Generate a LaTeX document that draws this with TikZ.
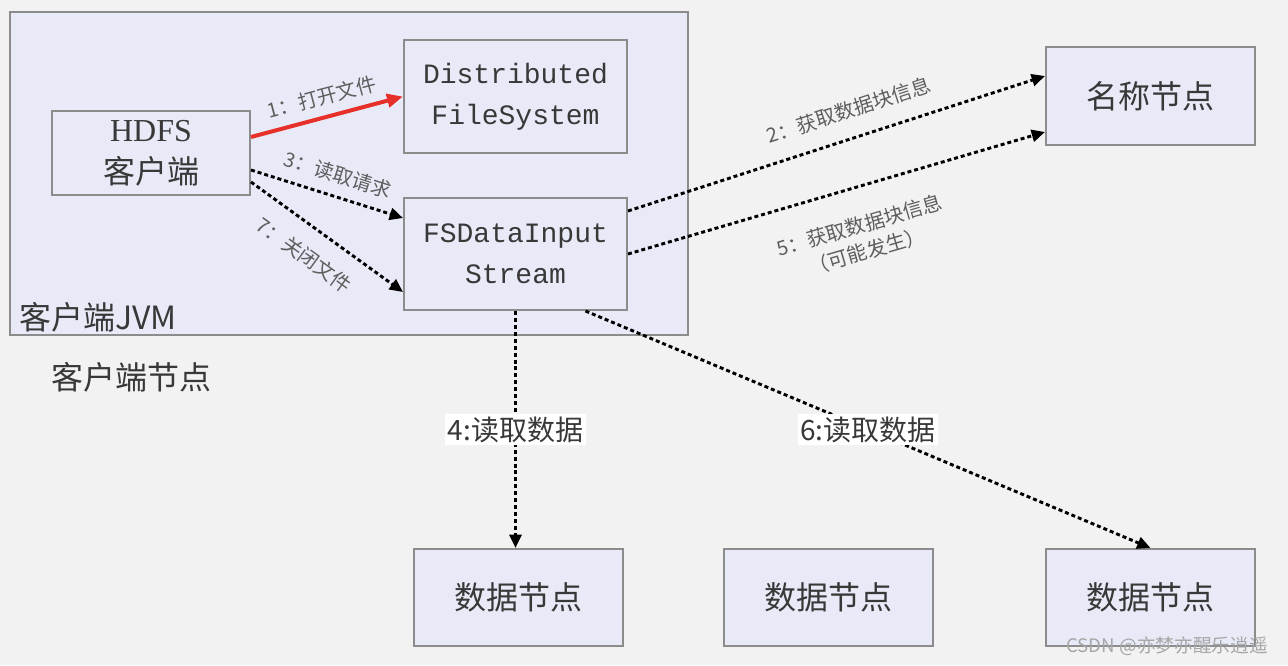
\documentclass[tikz,border=0pt]{standalone}
\usepackage{fontspec}
\setmainfont{Liberation Serif}
\newfontfamily\cjk{Noto Sans CJK SC}
\newfontfamily\mono{Liberation Mono}
\usetikzlibrary{
    arrows.meta,
    calc
}
\definecolor{pagebg}{HTML}{F2F2F2}
\definecolor{boxfill}{HTML}{E8EBF7}
\definecolor{boxline}{HTML}{8C8C8C}
\definecolor{boxtext}{HTML}{383838}
\definecolor{steptext}{HTML}{5E5E5E}
\definecolor{openred}{HTML}{E8302A}
\newcommand{\boxcjk}{\cjk\fontsize{24}{31.5}\selectfont}
\newcommand{\boxmono}{\mono\fontsize{21}{30.75}\selectfont}
\newcommand{\stepfont}{\cjk\fontsize{15}{20}\selectfont}
\tikzset{box/.style={draw=boxline, line width=1.5pt, fill=boxfill, inner sep=0pt, text=boxtext, align=center}}
\tikzset{dotline/.style={line width=2.2pt, dash pattern=on 3pt off 2.2pt, -{Triangle[length=10pt, width=9pt]}}}
\tikzset{steplabel/.style={text=steptext, inner sep=0pt, font=\stepfont}}
\tikzset{readlabel/.style={fill=white, text=boxtext, inner sep=2pt, font=\cjk\fontsize{21}{24}\selectfont}}

\begin{document}
\begin{tikzpicture}[x=0.75pt, y=-0.75pt]
    \useasboundingbox (0, 0) rectangle (1288, 665);
    \fill[pagebg] (0, 0) rectangle (1288, 665);

    \draw[draw=boxline, line width=1.5pt, fill=boxfill] (10, 12) rectangle (688, 335);
    \node[anchor=west, text=boxtext, inner sep=0pt, font=\boxcjk] (jvm) at (19, 317) {客户端JVM};
    \node[anchor=west, text=boxtext, inner sep=0pt, font=\boxcjk] (clientnode) at (51, 377) {客户端节点};

    \node[box, minimum width=148.5pt, minimum height=63pt, font=\fontsize{24}{31.5}\selectfont] (hdfs) at (151, 153) {HDFS\\{\boxcjk 客户端}};
    \node[box, minimum width=167.25pt, minimum height=84.75pt, font=\boxmono] (dfs) at (515.5, 96.5) {Distributed\\FileSystem};
    \node[box, minimum width=167.25pt, minimum height=84pt, font=\boxmono] (fsin) at (515.5, 254) {FSDataInput\\Stream};

    \node[box, minimum width=156.75pt, minimum height=73.5pt, font=\boxcjk] (namenode) at (1150.5, 96) {名称节点};
    \node[box, minimum width=156.75pt, minimum height=72.75pt, font=\boxcjk] (dn1) at (518.5, 597.5) {数据节点};
    \node[box, minimum width=156.75pt, minimum height=72.75pt, font=\boxcjk] (dn2) at (828.5, 597.5) {数据节点};
    \node[box, minimum width=156.75pt, minimum height=72.75pt, font=\boxcjk] (dn3) at (1150.5, 597.5) {数据节点};

    \draw[openred, line width=3pt, -{Triangle[length=12pt, width=10pt]}]
    ($(hdfs.east)+(0, -16)$) -- node[steplabel, sloped, above=7pt, pos=0.5] (step1) {1：打开文件} (dfs.west);

    \draw[dotline]
    ($(hdfs.east)+(0, 17)$) -- node[steplabel, sloped, above=8pt, pos=0.53] (step3) {3：读取请求} ($(fsin.west)+(0, -36)$);
    \draw[dotline]
    ($(hdfs.east)+(0, 29)$) -- node[steplabel, sloped, below=13pt, pos=0.46] (step7) {7：关闭文件} ($(fsin.west)+(0, 38)$);

    \draw[dotline]
    ($(fsin.east)+(0, -43)$) -- node[steplabel, sloped, above=13pt, pos=0.55] (step2) {2：获取数据块信息} ($(namenode.west)+(0, -20)$);
    \draw[dotline]
    (fsin.east) -- node[steplabel, sloped, below=20pt, pos=0.53, align=center] (step5) {5：获取数据块信息\\（可能发生）} ($(namenode.west)+(0, 36)$);

    \draw[dotline]
    (fsin.south) -- node[readlabel] (step4) {4:读取数据} (fsin.south |- dn1.north);
    \draw[dotline]
    ($(fsin.south)+(70, 0)$) -- node[readlabel] (step6) {6:读取数据} (dn3.north);

    \node[text=gray!70, inner sep=0pt, font=\cjk\fontsize{14}{16}\selectfont] (wmark) at (1167, 646) {CSDN @亦梦亦醒乐逍遥};
\end{tikzpicture}
\end{document}
